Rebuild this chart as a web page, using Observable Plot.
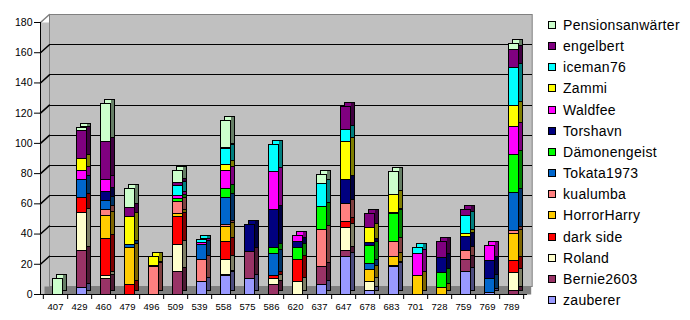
<!DOCTYPE html>
<html><head><meta charset="utf-8">
<script src="https://cdn.jsdelivr.net/npm/d3@7"></script>
<script src="https://cdn.jsdelivr.net/npm/@observablehq/plot@0.6"></script>
<style>
body{margin:0;background:#fff;font-family:"Liberation Sans",Arial,sans-serif;}
#wrap{position:relative;width:690px;height:320px;overflow:hidden;}
#chart{position:absolute;left:0;top:0;}
#legend{position:absolute;left:548px;top:0;width:142px;height:320px;}
.row{position:absolute;left:0;height:16px;display:flex;align-items:center;white-space:nowrap;font-size:14px;letter-spacing:0.3px;color:#000;}
.sw{width:6px;height:6px;border:1px solid #000;margin-right:7px;flex:none;}
</style></head><body>
<div id="wrap"><div id="chart"></div><div id="legend"></div></div>
<script>
const categories = ["407","429","460","479","496","509","539","558","575","586","620","637","647","678","683","701","728","759","769","789"];
const seriesNames = ["zauberer","Bernie2603","Roland","dark side","HorrorHarry","kualumba","Tokata1973","Dämonengeist","Torshavn","Waldfee","Zammi","iceman76","engelbert","Pensionsanwärter"];
const seriesColors = ["#9999FF","#993366","#FFFFCC","#FF0000","#FFCC00","#FF8080","#0066CC","#00FF00","#000080","#FF00FF","#FFFF00","#00FFFF","#800080","#CCFFCC"];
const yTicks = [0,20,40,60,80,100,120,140,160,180];

const zauberer         = [0, 4, 0, 0, 0, 0, 8,12,10, 0, 0, 6,25, 2,18, 0, 0,15, 1, 0];
const bernie2603       = [0,25,10, 0, 0,15, 0, 1,18, 6, 0,12, 4, 0, 0, 0, 0, 8, 0, 2];
const roland           = [0,25, 2, 0, 0,18, 0,10, 0, 4, 8, 0,15, 6, 0, 0, 0, 0, 0,12];
const darkSide         = [0,10,25, 6, 0,18, 0,12, 0, 2,15, 0, 4, 0, 1, 0, 0, 0, 0, 8];
const horrorHarry      = [0, 0,15,25, 0, 2, 0,10, 0, 0, 0, 0, 0, 8, 6,12, 4, 0, 0,18];
const kualumba         = [0, 0, 4, 0,18, 8,15, 1, 0, 0, 0,25,12, 0,10, 0, 0, 6, 0, 2];
const tokata1973       = [0,12, 6, 2, 0, 0,10,18, 0,15, 0, 0, 0, 4, 0, 0, 0, 0, 9,25];
const daemonengeist    = [0, 0, 0, 0, 1, 2, 0, 6, 0, 4, 8,15, 0,12,18, 0,10, 0, 0,25];
const torshavn         = [0, 0, 6, 0, 0, 0, 0, 0,18,25, 4, 0,16, 2, 1, 0,10, 9,12, 0];
const waldfee          = [0, 6, 8, 0, 0, 2, 1,12, 0,25, 4, 0, 0, 0, 0,15, 0, 0,10,19];
const zammi            = [0, 8, 0,18, 6, 0, 0, 4, 0, 0, 0, 0,25,10,12, 0, 0, 2, 0,14];
const iceman76         = [0, 0, 0, 0, 0, 7, 2,10, 0,18, 0,15, 8, 0, 0, 4, 0,12, 0,25];
const engelbert        = [0,18,25, 6, 0, 2, 0, 1, 0, 0, 0, 0,15, 9, 0, 0,11, 4, 0,12];
const pensionsanwaerter= [10,2,25,13, 0, 8, 0,18, 0, 0, 0, 6, 0, 0,15, 0, 0, 0, 0, 4];

const seriesValues = [zauberer,bernie2603,roland,darkSide,horrorHarry,kualumba,tokata1973,daemonengeist,torshavn,waldfee,zammi,iceman76,engelbert,pensionsanwaerter];

const data = [];
seriesNames.forEach((s, si) => {
  categories.forEach((c, ci) => {
    const v = seriesValues[si][ci];
    if (v > 0) data.push({category: c, series: s, value: v});
  });
});

const band = 486.7 / categories.length;
const stack = (o) => Plot.stackY({order: seriesNames}, {x: "category", y: "value", z: "series", ...o});

const chart = Plot.plot({
  width: 540,
  height: 320,
  marginLeft: 40,
  marginRight: 13.3,
  marginTop: 22,
  marginBottom: 26,
  style: {fontFamily: "Liberation Sans, Arial, sans-serif", background: "white"},
  x: {type: "band", domain: categories, padding: 0},
  y: {domain: [0, 180]},
  color: {domain: seriesNames, range: seriesColors},
  marks: [
    Plot.frame({fill: "#c0c0c0"}),
    Plot.frame({fill: "#c0c0c0", stroke: "#808080", dx: 9, dy: -8, insetRight: 4}),
    Plot.ruleY(yTicks.filter(d => d > 0 && d < 180), {dx: 9, dy: -8, insetRight: 4, stroke: "#000", shapeRendering: "crispEdges"}),
    Plot.vector(yTicks.filter(d => d > 0), {
      y: d => d, frameAnchor: "left", length: 12, rotate: 48, anchor: "start",
      shape: {draw(context, l) { context.moveTo(0, 0); context.lineTo(0, -l); }},
      stroke: d => d === 180 ? "#808080" : "#000"
    }),
    Plot.ruleY([0], {stroke: "#808080", strokeWidth: 8, dx: 4.5, dy: -4}),
    Plot.barY(data, stack({fill: "series", stroke: "#000", strokeWidth: 1, insetLeft: 7, insetRight: 7, dx: 6.5, dy: -4, shapeRendering: "crispEdges"})),
    Plot.barY(data, stack({fill: "#000", fillOpacity: 0.5, insetLeft: 13.3, insetRight: 7, dx: 6.5, dy: -4, shapeRendering: "crispEdges"})),
    Plot.barY(data, stack({fill: "series", stroke: "#000", strokeWidth: 1, insetLeft: 7, insetRight: 7, dx: 2.5, shapeRendering: "crispEdges"})),
    Plot.ruleY([0], {stroke: "#000", shapeRendering: "crispEdges"}),
    Plot.frame({anchor: "left", stroke: "#000"}),
    Plot.axisY({ticks: yTicks, tickSize: 6, tickPadding: 2, fontSize: 10.5, label: null}),
    Plot.axisX({tickSize: 5, tickFormat: () => "", dx: band / 2, label: null}),
    Plot.axisX({ticks: [categories[0]], tickSize: 5, tickFormat: () => "", dx: -band / 2, label: null}),
    Plot.axisX({tickSize: 0, tickPadding: 9, fontSize: 9.5, label: null})
  ]
});
document.getElementById("chart").appendChild(chart);

const legend = document.getElementById("legend");
seriesNames.slice().reverse().forEach((s, k) => {
  const row = document.createElement("div");
  row.className = "row";
  row.style.top = (25 + k * 21.15 - 8) + "px";
  const sw = document.createElement("span");
  sw.className = "sw";
  sw.style.background = seriesColors[seriesNames.indexOf(s)];
  const t = document.createElement("span");
  t.textContent = s;
  row.appendChild(sw); row.appendChild(t);
  legend.appendChild(row);
});
</script>
</body></html>
